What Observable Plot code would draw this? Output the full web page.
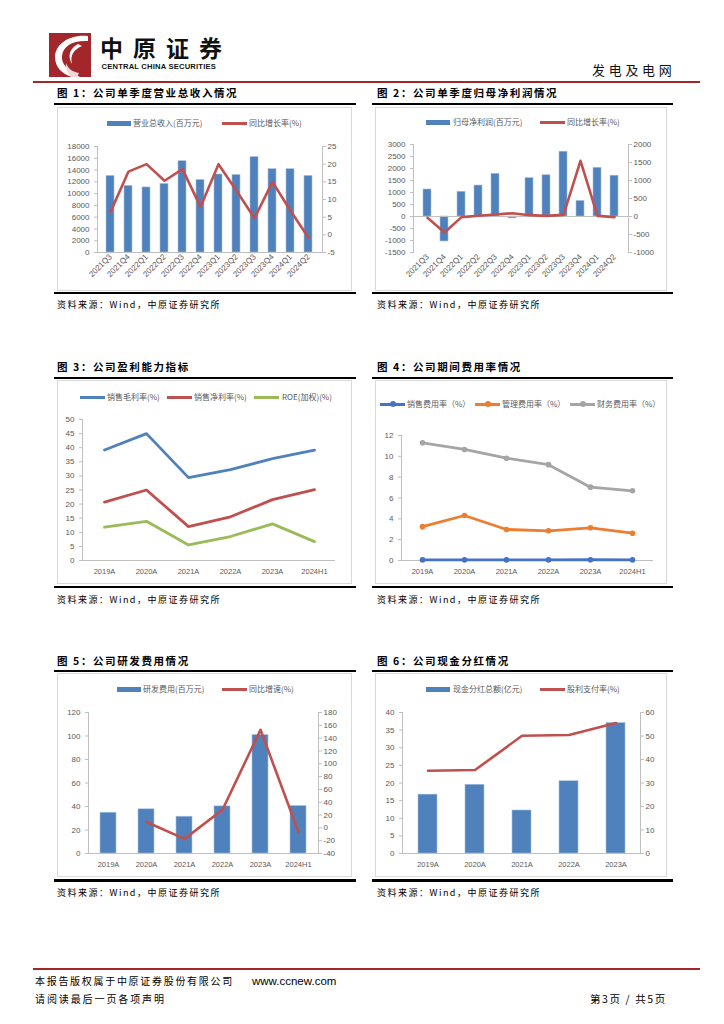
<!DOCTYPE html>
<html><head><meta charset="utf-8">
<script src="https://cdn.jsdelivr.net/npm/d3@7"></script>
<script src="https://cdn.jsdelivr.net/npm/@observablehq/plot@0.6"></script>
<style>
body{margin:0;background:#fff;}
#page{position:relative;width:724px;height:1024px;overflow:hidden;font-family:"Noto Sans CJK SC","Noto Sans",sans-serif;background:#fff;}
.abs{position:absolute;}
.t{white-space:nowrap;line-height:1;}
.title{font-weight:700;letter-spacing:1.6px;color:#000;}
.src{letter-spacing:1.5px;color:#000;}
.box{border:1px solid #d9d9d9;box-sizing:border-box;}
.leg{color:#595959;}
.bold{font-weight:700;}
</style></head>
<body><div id="page"></div>
<script>
// ---------------- data ----------------
const quarters = ["2021Q3","2021Q4","2022Q1","2022Q2","2022Q3","2022Q4","2023Q1","2023Q2","2023Q3","2023Q4","2024Q1","2024Q2"];
const revenue = [13000,11300,11050,11650,15500,12300,13250,13150,16200,14150,14150,13000];
const revenueYoY = [6.5,17.9,20.0,15.3,18.6,7.9,20.0,12.5,4.7,15.0,6.8,-0.8];
const netProfit = [1125,-1040,1030,1290,1780,-80,1600,1720,2700,650,2030,1700];
const netProfitYoY = [-37,-444,-18,20,55,92,37,18,46,1546,18,-18];
const years6 = ["2019A","2020A","2021A","2022A","2023A","2024H1"];
const grossMargin = [39.2,45.0,29.4,32.2,36.1,39.1];
const netMargin = [20.7,25.0,12.0,15.5,21.6,25.1];
const roe = [11.8,13.9,5.5,8.5,13.0,6.7];
const sellingRate = [0.06,0.06,0.06,0.06,0.07,0.06];
const adminRate = [3.25,4.32,2.98,2.85,3.14,2.62];
const financeRate = [11.3,10.66,9.82,9.2,7.04,6.69];
const rdExpense = [34.7,37.6,31.3,40.1,100.8,40.4];
const rdYoY = [null,9.2,-17.2,28.3,153,-6.4];
const years5 = ["2019A","2020A","2021A","2022A","2023A"];
const dividend = [16.7,19.5,12.2,20.5,37.0];
const payoutRatio = [35.2,35.5,50.1,50.4,55.5];

const BLUE = "#4F81BD", RED = "#C0504D", GREEN = "#9BBB59";
const BLUE2 = "#4472C4", ORANGE = "#ED7D31", GRAY = "#A5A5A5";
const AXIS = "#bfbfbf", TXT = "#595959";
const NUMFONT = "'Liberation Sans', Arial, sans-serif";

// ---------------- page helpers ----------------
const page = document.getElementById("page");
function box(style, cls) {
  const d = document.createElement("div");
  d.className = "abs " + (cls || "");
  for (const k in style) d.style[k] = typeof style[k] === "number" ? style[k] + "px" : style[k];
  page.appendChild(d);
  return d;
}
function txt(cls, x, cy, fs, text, extra) {
  const d = box(Object.assign({left: x, top: cy - 0.556 * fs, fontSize: fs + "px"}, extra || {}), "t " + cls);
  d.textContent = text;
  return d;
}
function legRect(x, y, color, label, tx) {
  box({left: x, top: y - 2.5, width: 24, height: 5, background: color});
  txt("leg", tx, y, 8, label);
}
function legLine(x, y, color, label, tx, marker) {
  box({left: x, top: y - 1.5, width: 25, height: 3, background: color});
  if (marker) box({left: x + 9.5, top: y - 3, width: 6, height: 6, borderRadius: "50%", background: color});
  txt("leg", tx, y, 8, label);
}
function place(svg, x, y) {
  const w = box({left: x, top: y});
  w.appendChild(svg);
}
function figureChrome(col, row, title) {
  const L = col === 0 ? {line: 54, lineW: 302, box: 57, boxW: 295, text: 57}
                      : {line: 372, lineW: 301, box: 375, boxW: 292, text: 377};
  const R = [{t: 94, top: 103, b0: 107, b1: 291, bl: 291.5, s: 305},
             {t: 368, top: 377, b0: 380, b1: 584, bl: 585.5, s: 600},
             {t: 661.5, top: 670, b0: 673, b1: 877, bl: 879, s: 893}][row];
  txt("title", L.text, R.t, 10.5, title);
  box({left: L.line, top: R.top, width: L.lineW, height: 2, background: "#000"});
  box({left: L.box, top: R.b0, width: L.boxW, height: R.b1 - R.b0}, "box");
  box({left: L.line, top: R.bl, width: L.lineW, height: 2.5, background: "#000"});
  txt("src", L.text, R.s, 9, "资料来源：Wind，中原证券研究所");
}

// ---------------- header / footer ----------------
const logo = box({left: 49, top: 33, width: 42, height: 44});
logo.innerHTML = '<svg width="42" height="44" viewBox="0 0 42 44"><rect width="42" height="44" fill="#a3262b"/>' +
  '<path d="M39 3 C21 1 6 11 6 24 C6 34 13 41 23 44 L31 44 C19 38 12 31 13 23 C14 13 24 7 39 8 Z" fill="#fff"/>' +
  '<path d="M29 11 C21 15 18 23 23 31 C21 23 24 17 33 13 Z" fill="#fff"/>' +
  '<path d="M17 30 C19 36 24 39 30 40 L28 44 L23 44 C19 41 16 36 17 30 Z" fill="#f3d6d6"/></svg>';
txt("bold", 100, 48.5, 23, "中原证券", {letterSpacing: "10px", color: "#111"});
txt("bold", 101.5, 67.5, 7.6, "CENTRAL CHINA SECURITIES", {color: "#111", fontFamily: NUMFONT, letterSpacing: "0.2px"});
txt("", 592, 70, 13, "发电及电网", {letterSpacing: "3.7px", color: "#111"});
box({left: 33, top: 81, width: 667, height: 2, background: "#a3262b"});

box({left: 33, top: 968, width: 667, height: 2, background: "#a3262b"});
txt("", 35, 982, 10, "本报告版权属于中原证券股份有限公司", {letterSpacing: "1.7px", color: "#000"});
txt("", 252, 982, 11.5, "www.ccnew.com", {fontFamily: NUMFONT, color: "#000"});
txt("", 35, 1000, 10, "请阅读最后一页各项声明", {letterSpacing: "1.9px", color: "#000"});
txt("", 590, 1000, 10.5, "第3页 / 共5页", {color: "#000", letterSpacing: "1.6px"});

// ---------------- chart helpers ----------------
const plotStyle = {fontFamily: NUMFONT, fontSize: "8px", color: TXT, background: "transparent", overflow: "visible"};
const axTxt = {fontSize: 8, fontFamily: NUMFONT, color: TXT, stroke: AXIS, label: null};
const fmt = d => String(Math.round(d));

function dualBarChart({cats, bars, line, left, leftStep, right, rightStep, width, height, m, padIn, rotate}) {
  const s = d3.scaleLinear(right, left);
  const data = cats.map((c, i) => ({c, v: bars[i], g: line[i]}));
  const lineData = data.filter(d => d.g != null);
  return Plot.plot({
    width, height, marginLeft: m[0], marginRight: m[1], marginTop: m[2], marginBottom: m[3],
    style: plotStyle,
    x: {type: "band", domain: cats, paddingInner: padIn, paddingOuter: padIn / 2},
    y: {domain: left},
    marks: [
      Plot.frame({anchor: "left", stroke: AXIS}),
      Plot.frame({anchor: "right", stroke: AXIS}),
      Plot.barY(data, {x: "c", y: "v", fill: BLUE, stroke: "#a7bfde", strokeWidth: 0.6}),
      Plot.ruleY([0], {stroke: AXIS}),
      Plot.line(lineData, {x: "c", y: d => s(d.g), stroke: RED, strokeWidth: 2.6, strokeLinejoin: "round"}),
      Plot.axisY({...axTxt, ticks: d3.range(left[0], left[1] + 1e-9, leftStep), tickFormat: fmt, tickSize: 3, tickPadding: 5}),
      Plot.axisY({...axTxt, anchor: "right", ticks: d3.range(right[0], right[1] + 1e-9, rightStep).map(s),
                  tickFormat: d => fmt(s.invert(d)), tickSize: 3, tickPadding: 2}),
      rotate
        ? Plot.axisX({...axTxt, tickRotate: -45, tickSize: 0, tickPadding: 3})
        : Plot.axisX({...axTxt, fontSize: 7.5, tickSize: 0, tickPadding: 8})
    ]
  });
}

function lineChart({cats, series, yDomain, yStep, width, height, m, dots}) {
  const marks = [
    Plot.frame({anchor: "left", stroke: AXIS}),
    Plot.ruleY([0], {stroke: AXIS}),
    Plot.axisY({...axTxt, ticks: d3.range(yDomain[0], yDomain[1] + 1e-9, yStep), tickFormat: fmt, tickSize: 3, tickPadding: 5}),
    Plot.axisX({...axTxt, fontSize: 7.5, tickSize: 0, tickPadding: 8})
  ];
  for (const {values, color} of series) {
    const d = cats.map((c, i) => ({c, v: values[i]}));
    marks.push(Plot.line(d, {x: "c", y: "v", stroke: color, strokeWidth: 2.8, strokeLinejoin: "round"}));
    if (dots) marks.push(Plot.dot(d, {x: "c", y: "v", fill: color, r: 2.8}));
  }
  return Plot.plot({
    width, height, marginLeft: m[0], marginRight: m[1], marginTop: m[2], marginBottom: m[3],
    style: plotStyle,
    x: {type: "band", domain: cats, padding: 0},
    y: {domain: yDomain},
    marks
  });
}

// ---------------- figure 1 ----------------
figureChrome(0, 0, "图 1：公司单季度营业总收入情况");
legRect(107, 123, BLUE, "营业总收入(百万元)", 133);
legLine(222, 123, RED, "同比增长率(%)", 249);
place(dualBarChart({cats: quarters, bars: revenue, line: revenueYoY, left: [0, 18000], leftStep: 2000,
  right: [-5, 25], rightStep: 5, width: 295, height: 155, m: [40, 30, 11, 38], padIn: 0.55, rotate: true}), 57, 135);

// ---------------- figure 2 ----------------
figureChrome(1, 0, "图 2：公司单季度归母净利润情况");
legRect(426, 122, BLUE, "归母净利润(百万元)", 453);
legLine(540, 122, RED, "同比增长率(%)", 567);
place(dualBarChart({cats: quarters, bars: netProfit, line: netProfitYoY, left: [-1500, 3000], leftStep: 500,
  right: [-1000, 2000], rightStep: 500, width: 292, height: 157, m: [38, 39, 11, 38], padIn: 0.55, rotate: true}), 375, 133);

// ---------------- figure 3 ----------------
figureChrome(0, 1, "图 3：公司盈利能力指标");
legLine(80, 397, BLUE, "销售毛利率(%)", 107);
legLine(167, 397, RED, "销售净利率(%)", 194);
legLine(254, 397, GREEN, "ROE(加权)(%)", 282);
place(lineChart({cats: years6, series: [{values: grossMargin, color: BLUE}, {values: netMargin, color: RED}, {values: roe, color: GREEN}],
  yDomain: [0, 50], yStep: 5, width: 295, height: 172, m: [25, 17, 9, 22]}), 57, 410);

// ---------------- figure 4 ----------------
figureChrome(1, 1, "图 4：公司期间费用率情况");
legLine(380, 404, BLUE2, "销售费用率（%）", 407, true);
legLine(475, 404, ORANGE, "管理费用率（%）", 502, true);
legLine(570, 404, GRAY, "财务费用率（%）", 597, true);
place(lineChart({cats: years6, series: [{values: sellingRate, color: BLUE2}, {values: adminRate, color: ORANGE}, {values: financeRate, color: GRAY}],
  yDomain: [0, 12], yStep: 2, width: 292, height: 162, m: [26, 14, 15, 22], dots: true}), 375, 420);

// ---------------- figure 5 ----------------
figureChrome(0, 2, "图 5：公司研发费用情况");
legRect(117, 689, BLUE, "研发费用(百万元)", 143);
legLine(222, 689, RED, "同比增速(%)", 249);
place(dualBarChart({cats: years6, bars: rdExpense, line: rdYoY, left: [0, 120], leftStep: 20,
  right: [-40, 180], rightStep: 20, width: 295, height: 176, m: [31, 34, 12, 23], padIn: 0.58, rotate: false}), 57, 700);

// ---------------- figure 6 ----------------
figureChrome(1, 2, "图 6：公司现金分红情况");
legRect(426, 689, BLUE, "现金分红总额(亿元)", 453);
legLine(540, 689, RED, "股利支付率(%)", 567);
place(dualBarChart({cats: years5, bars: dividend, line: payoutRatio, left: [0, 40], leftStep: 5,
  right: [0, 60], rightStep: 10, width: 292, height: 176, m: [27, 27, 12, 23], padIn: 0.6, rotate: false}), 375, 700);
</script>
</body></html>
